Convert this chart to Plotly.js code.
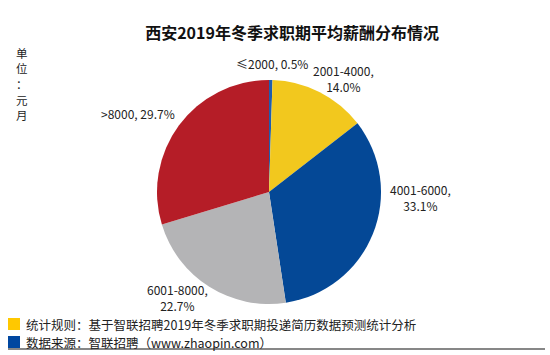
<!DOCTYPE html>
<html>
<head>
<meta charset="utf-8">
<script src="https://cdn.plot.ly/plotly-3.0.1.min.js"></script>
<style>html,body{margin:0;padding:0;background:#fff;}#chart{width:550px;height:355px;}</style>
</head>
<body>
<div id="chart"></div>
<script>
var categories = ["≤2000", "2001-4000", "4001-6000", "6001-8000", ">8000"];
var shares = [0.5, 14.0, 33.1, 22.7, 29.7];
var sliceColors = ["#1F5DAE", "#F2C81E", "#044896", "#B4B4B6", "#B51D27"];
var titleText = "西安2019年冬季求职期平均薪酬分布情况";
var unitText = "单位：元月";
var footNotes = ["统计规则：基于智联招聘2019年冬季求职期投递简历数据预测统计分析", "数据来源：智联招聘（www.zhaopin.com）"];
var footColors = ["#FFC800", "#0047A0"];

var font = "Noto Sans CJK SC, Noto Sans, sans-serif";
// label placements (paper coords), and whether to break after the comma
var labelPos = [[0.495, 0.822, false], [0.624, 0.780, true], [0.764, 0.445, true], [0.323, 0.163, true], [0.250, 0.680, false]];

var annotations = [];
categories.forEach(function (c, i) {
  var p = labelPos[i];
  annotations.push({
    xref: "paper", yref: "paper", x: p[0], y: p[1],
    text: c + "," + (p[2] ? "<br>" : " ") + shares[i].toFixed(1) + "%",
    showarrow: false, font: {family: font, size: 12, color: "#222"},
    xanchor: "center", yanchor: "middle", align: "center"
  });
});
unitText.split("").forEach(function (ch, i) {
  annotations.push({
    xref: "paper", yref: "paper", x: 22 / 550, y: 1 - (53 + i * 15.5) / 355,
    text: ch, showarrow: false, borderpad: 0,
    font: {family: font, size: 11.5, color: "#222"}, xanchor: "center", yanchor: "middle"
  });
});
footNotes.forEach(function (t, i) {
  annotations.push({
    xref: "paper", yref: "paper", x: 0.043, y: 1 - (324 + i * 18) / 355,
    text: t, showarrow: false, font: {family: font, size: 12.5, color: "#222"},
    xanchor: "left", yanchor: "middle"
  });
});

var shapes = [];
footColors.forEach(function (col, i) {
  var yc = 1 - (324 + i * 18) / 355;
  shapes.push({type: "rect", xref: "paper", yref: "paper",
    x0: 8 / 550, x1: 20 / 550, y0: yc - 6 / 355, y1: yc + 6 / 355,
    fillcolor: col, line: {width: 0}});
});
shapes.push({type: "line", xref: "paper", yref: "paper", x0: 8 / 550, x1: 545 / 550,
  y0: 1 - 349 / 355, y1: 1 - 349 / 355, line: {color: "#111", width: 1.2}});

var data = [{
  type: "pie",
  labels: categories,
  values: shares,
  marker: {colors: sliceColors, line: {width: 0}},
  sort: false,
  direction: "clockwise",
  rotation: 0,
  textinfo: "none",
  hoverinfo: "label+percent",
  domain: {x: [157 / 550, 381 / 550], y: [1 - 304 / 355, 1 - 80 / 355]}
}];

var layout = {
  width: 550, height: 355,
  margin: {l: 0, r: 0, t: 0, b: 0},
  paper_bgcolor: "#fff",
  showlegend: false,
  title: {text: "<b>" + titleText + "</b>", x: 0.531, xanchor: "center", y: 1 - 33 / 355, yanchor: "middle",
    font: {family: font, size: 16, color: "#111"}},
  annotations: annotations,
  shapes: shapes
};

Plotly.newPlot("chart", data, layout, {displayModeBar: false, staticPlot: true});
</script>
</body>
</html>
